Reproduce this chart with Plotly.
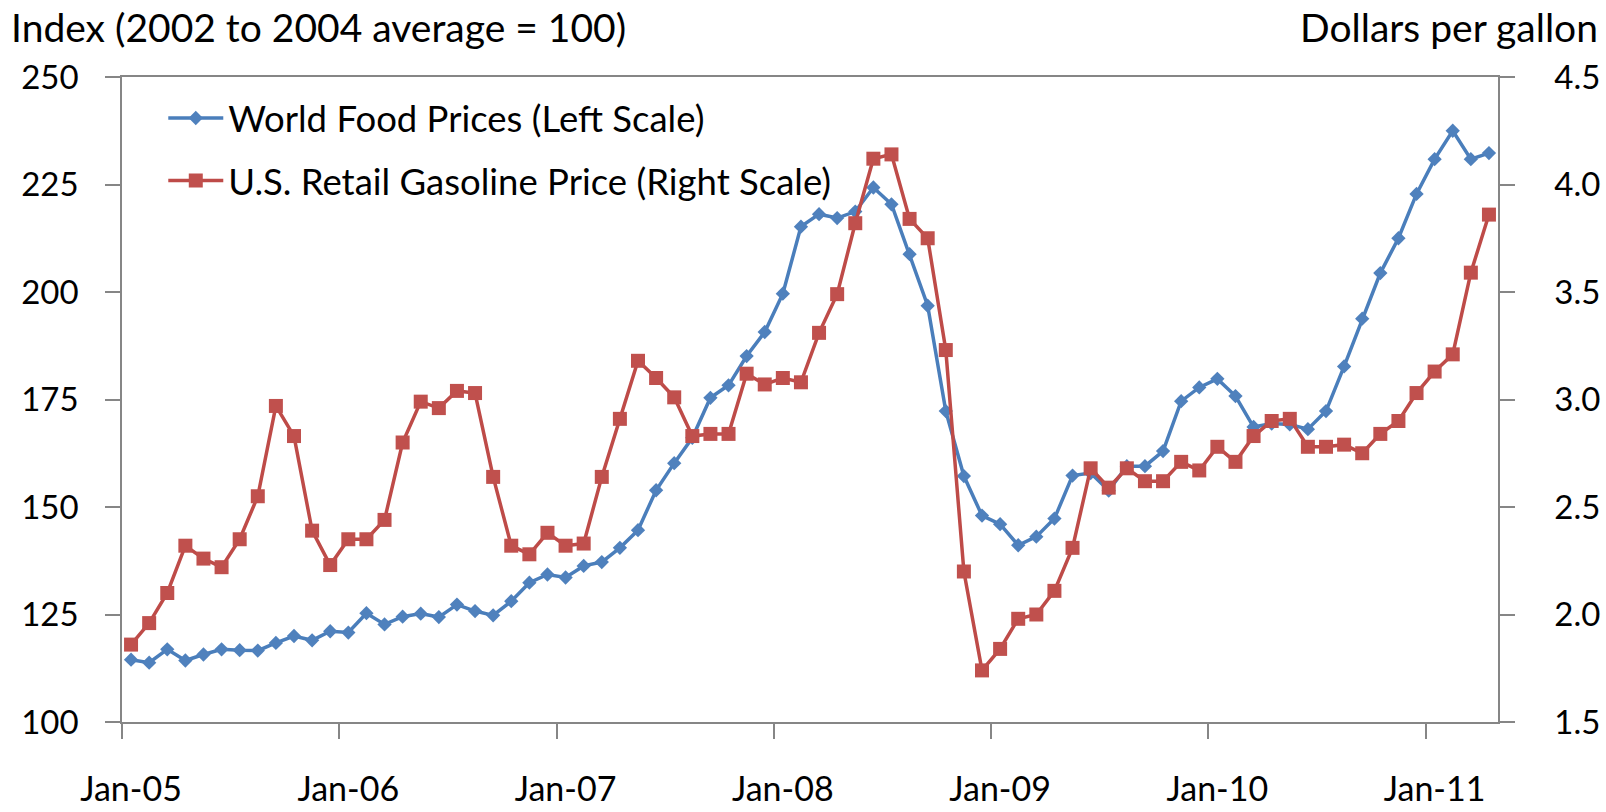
import pandas as pd
import plotly.graph_objects as go

# monthly categories, Jan-05 .. Apr-11
months = pd.date_range("2005-01-01", periods=76, freq="MS").strftime("%b-%y").tolist()

# FAO food price index (2002-2004 = 100)
food_index = [
    114.5, 113.8, 116.9, 114.3, 115.7, 116.9, 116.7, 116.6, 118.4, 120.0, 119.0, 121.1,
    120.8, 125.3, 122.7, 124.5, 125.2, 124.4, 127.3, 125.8, 124.8, 128.1, 132.4, 134.3,
    133.6, 136.3, 137.2, 140.5, 144.6, 153.9, 160.2, 166.1, 175.4, 178.3, 185.1, 190.7,
    199.6, 215.2, 218.1, 217.2, 218.7, 224.3, 220.4, 208.8, 196.8, 172.3, 157.2, 148.0,
    146.0, 141.1, 143.1, 147.3, 157.3, 157.9, 153.8, 159.5, 159.5, 163.0, 174.6, 177.8,
    179.8, 175.8, 168.6, 169.4, 169.2, 168.1, 172.3, 182.7, 193.8, 204.4, 212.5, 222.8,
    230.9, 237.5, 230.9, 232.3,
]

# US retail gasoline, dollars per gallon
gas_price = [
    1.86, 1.96, 2.10, 2.32, 2.26, 2.22, 2.35, 2.55, 2.97, 2.83, 2.39, 2.23,
    2.35, 2.35, 2.44, 2.80, 2.99, 2.96, 3.04, 3.03, 2.64, 2.32, 2.28, 2.38,
    2.32, 2.33, 2.64, 2.91, 3.18, 3.10, 3.01, 2.83, 2.84, 2.84, 3.12, 3.07,
    3.10, 3.08, 3.31, 3.49, 3.82, 4.12, 4.14, 3.84, 3.75, 3.23, 2.20, 1.74,
    1.84, 1.98, 2.00, 2.11, 2.31, 2.68, 2.59, 2.68, 2.62, 2.62, 2.71, 2.67,
    2.78, 2.71, 2.83, 2.90, 2.91, 2.78, 2.78, 2.79, 2.75, 2.84, 2.90, 3.03,
    3.13, 3.21, 3.59, 3.86,
]

FONT = "Lato"
AXIS = "#868686"

fig = go.Figure()
fig.add_trace(go.Scatter(
    x=months, y=food_index, name="World Food Prices (Left Scale)",
    mode="lines+markers", showlegend=True,
    line=dict(color="#4A7EBB", width=3.5),
    marker=dict(symbol="diamond", size=11, color="#4F81BD"),
    legend="legend",
))
fig.add_trace(go.Scatter(
    x=months, y=gas_price, name="U.S. Retail Gasoline Price (Right Scale)",
    mode="lines+markers", yaxis="y2", showlegend=True,
    line=dict(color="#BE4B48", width=3.5),
    marker=dict(symbol="square", size=14, color="#C0504D"),
    legend="legend2",
))

axis_style = dict(
    showline=True, linecolor=AXIS, linewidth=1.5,
    ticks="outside", ticklen=15, tickcolor=AXIS, tickwidth=1.5,
    showgrid=False, zeroline=False, automargin=False,
    tickfont=dict(family=FONT, size=33, color="black"),
)

legend_style = dict(x=0.030, xanchor="left", yanchor="middle", itemwidth=55,
                    font=dict(size=36.5), bgcolor="rgba(0,0,0,0)", visible=True)

fig.update_layout(
    width=1606, height=812,
    margin=dict(l=122, r=108, t=77, b=90),
    paper_bgcolor="white", plot_bgcolor="white",
    font=dict(family=FONT, size=33, color="black"),
    showlegend=True,
    legend=dict(y=0.936, **legend_style),
    legend2=dict(y=0.839, **legend_style),
    xaxis=dict(type="category", range=[-0.5, 75.5], tickmode="linear", tick0=0, dtick=12,
               tickson="boundaries", tickangle=0, mirror=True, ticklabelstandoff=36,
               **{**axis_style, "tickfont": dict(family=FONT, size=34, color="black")}),
    yaxis=dict(range=[100, 250], dtick=25, ticklabelstandoff=20, **axis_style),
    yaxis2=dict(range=[1.5, 4.5], dtick=0.5, tickformat=".1f", overlaying="y", side="right",
                ticklabelstandoff=33, **axis_style),
    annotations=[
        dict(text="Index (2002 to 2004 average = 100)", xref="paper", yref="paper",
             x=-0.082, y=1.078, xanchor="left", yanchor="middle", showarrow=False,
             font=dict(family=FONT, size=39, color="black")),
        dict(text="Dollars per gallon", xref="paper", yref="paper",
             x=1.074, y=1.078, xanchor="right", yanchor="middle", showarrow=False,
             font=dict(family=FONT, size=39, color="black")),
    ],
)

fig.write_html("out.html", config={"displayModeBar": False},
               post_script="document.body.style.margin='0';")
